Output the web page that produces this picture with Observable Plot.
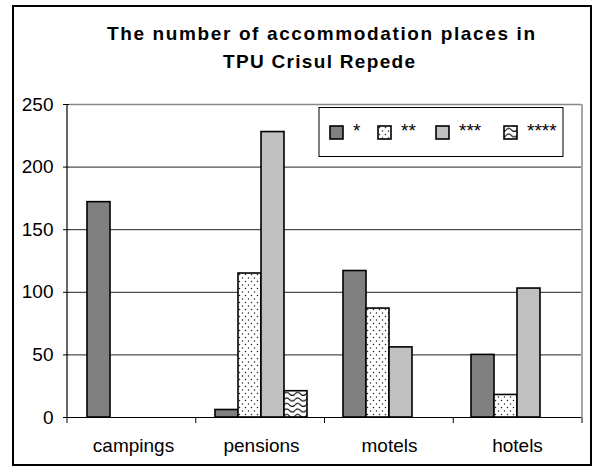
<!DOCTYPE html>
<html><head><meta charset="utf-8">
<script src="https://cdn.jsdelivr.net/npm/d3@7"></script>
<script src="https://cdn.jsdelivr.net/npm/@observablehq/plot@0.6"></script>
<style>
body{margin:0;background:#fff;}
#wrap{position:relative;width:594px;height:467px;font-family:"Liberation Sans",Arial,sans-serif;}
#wrap svg{position:absolute;left:0;top:0;}
</style></head><body><div id="wrap"></div>
<script>
const titleLines = ["The number of accommodation places in", "TPU Crisul Repede"];
const categories = ["campings", "pensions", "motels", "hotels"];
const series = ["*", "**", "***", "****"];
const oneStar = [172, 6, 117, 50];
const twoStar = [null, 115, 87, 18];
const threeStar = [null, 228, 56, 103];
const fourStar = [null, 21, null, null];
const yTicks = [0, 50, 100, 150, 200, 250];
const fills = ["#808080", "url(#pat-dots)", "#c0c0c0", "url(#pat-waves)"];

const valuesBySeries = [oneStar, twoStar, threeStar, fourStar];
const rows = [];
series.forEach((s, i) => categories.forEach((c, j) => {
  const v = valuesBySeries[i][j];
  if (v != null) rows.push({category: c, series: s, value: v});
}));

const font = '"Liberation Sans", Arial, sans-serif';
const W = 594, H = 467;

const chart = Plot.plot({
  width: W, height: H,
  marginTop: 104, marginBottom: 50, marginLeft: 67, marginRight: 12,
  style: {fontFamily: font, fontSize: "19px", color: "#000", background: "transparent", overflow: "visible"},
  fx: {domain: categories, padding: 0, axis: "bottom", tickSize: 0, tickPadding: 21, label: null},
  x: {domain: series, paddingInner: 0, paddingOuter: 0.74, axis: null},
  y: {domain: [0, 250], ticks: yTicks, tickSize: 6, tickPadding: 10, label: null},
  color: {domain: series, range: fills},
  marks: [
    Plot.ruleY(yTicks.filter(t => t > 0 && t < 250), {stroke: "#222", strokeWidth: 1}),
    Plot.ruleY([250], {stroke: "#888", strokeWidth: 1.5}),
    Plot.barY(rows, {fx: "category", x: "series", y: "value", fill: "series", stroke: "#000", strokeWidth: 1.6}),
    Plot.ruleY([0], {stroke: "#000", strokeWidth: 1})
  ]
});

const wrap = document.getElementById("wrap");
wrap.appendChild(chart);

const fxS = chart.scale("fx");
const yS = chart.scale("y");
const [fx0, fx1] = fxS.range;
const yBottom = Math.max(...yS.range), yTop = Math.min(...yS.range);
const bounds = d3.range(categories.length + 1).map(i => fx0 + i * (fx1 - fx0) / categories.length);

const ov = d3.select(wrap).append("svg").attr("width", W).attr("height", H)
  .style("pointer-events", "none").attr("font-family", font);

const defs = ov.append("defs");
const pd = defs.append("pattern").attr("id", "pat-dots").attr("patternUnits", "userSpaceOnUse")
  .attr("width", 6).attr("height", 7);
pd.append("rect").attr("width", 6).attr("height", 7).attr("fill", "#fff");
pd.append("circle").attr("cx", 1.5).attr("cy", 1.5).attr("r", 0.75).attr("fill", "#222");
pd.append("circle").attr("cx", 4.5).attr("cy", 5).attr("r", 0.75).attr("fill", "#222");
const pw = defs.append("pattern").attr("id", "pat-waves").attr("patternUnits", "userSpaceOnUse")
  .attr("width", 11).attr("height", 5.5);
pw.append("rect").attr("width", 11).attr("height", 5.5).attr("fill", "#fff");
pw.append("path").attr("d", "M0 3.5 Q2.75 0.5 5.5 3.5 T11 3.5").attr("fill", "none")
  .attr("stroke", "#000").attr("stroke-width", 1.1);

// plot-area border (right side), axis line, category boundary ticks
ov.append("line").attr("x1", fx1).attr("x2", fx1).attr("y1", yTop).attr("y2", yBottom)
  .attr("stroke", "#888").attr("stroke-width", 1.5);
ov.append("line").attr("x1", fx0).attr("x2", fx0).attr("y1", yTop).attr("y2", yBottom + 0.5)
  .attr("stroke", "#000").attr("stroke-width", 1.2);
bounds.forEach(b => ov.append("line").attr("x1", b).attr("x2", b).attr("y1", yBottom).attr("y2", yBottom + 6)
  .attr("stroke", "#000").attr("stroke-width", 1));

// title
const tl = [{t: titleLines[0], x: 321, y: 40, len: 428}, {t: titleLines[1], x: 319, y: 68, len: 192}];
tl.forEach(d => ov.append("text").attr("x", d.x).attr("y", d.y).attr("text-anchor", "middle")
  .attr("font-weight", "bold").attr("font-size", 19).attr("textLength", d.len)
  .attr("lengthAdjust", "spacing").text(d.t));

// legend
ov.append("rect").attr("x", 319).attr("y", 107.5).attr("width", 244).attr("height", 49)
  .attr("fill", "#fff").attr("stroke", "#000").attr("stroke-width", 1);
const swX = [330, 378, 436, 504], lbX = [353, 401, 459, 527];
series.forEach((s, i) => {
  ov.append("rect").attr("x", swX[i]).attr("y", 126).attr("width", 13).attr("height", 13)
    .attr("fill", fills[i]).attr("stroke", "#000").attr("stroke-width", 1.6);
  ov.append("text").attr("x", lbX[i]).attr("y", 137).attr("font-size", 19).text(s);
});

// outer border
ov.append("rect").attr("x", 13).attr("y", 6).attr("width", 578).attr("height", 459)
  .attr("fill", "none").attr("stroke", "#000").attr("stroke-width", 2);
</script></body></html>
